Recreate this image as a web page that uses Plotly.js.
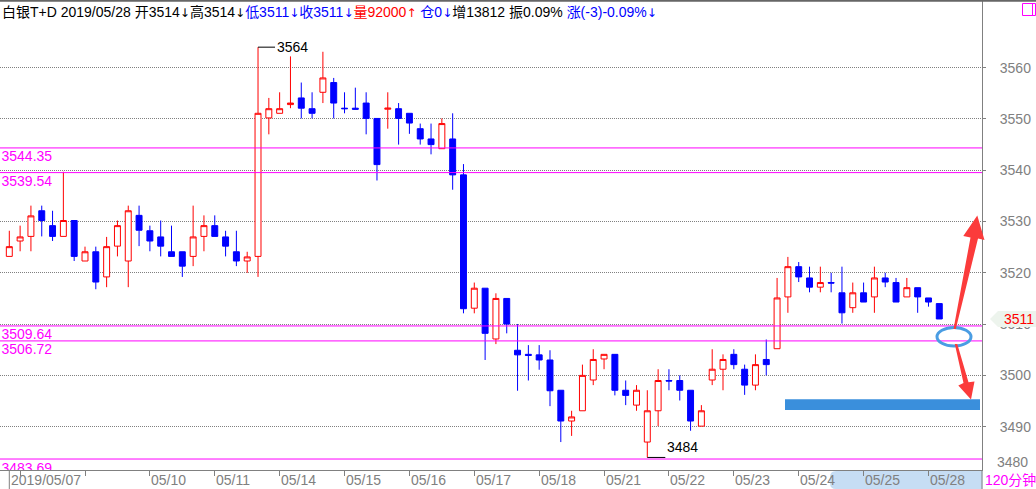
<!DOCTYPE html>
<html>
<head>
<meta charset="utf-8">
<script src="https://cdn.plot.ly/plotly-3.0.1.min.js"></script>
<style>
html,body{margin:0;padding:0;background:#fff;}
#chart{width:1036px;height:489px;}
</style>
</head>
<body>
<div id="chart"></div>
<script>
// ---------- data ----------
const candleIdx = Array.from({length: 87}, (_, i) => i);
const openV = [3523.2,3526.2,3527.1,3532.1,3529.2,3527.1,3530.2,3522.3,3524.1,3519.2,
  3525.2,3522.3,3531.2,3528.2,3527.0,3524.1,3524.1,3523.2,3527.1,3529.2,
  3527.0,3524.1,3522.3,3523.2,3550.2,3551.1,3552.8,3554.1,3552.0,3555.2,
  3557.1,3552.1,3552.1,3553.1,3550.1,3551.9,3552.0,3551.1,3548.1,3546.1,
  3544.2,3546.1,3539.1,3513.1,3517.0,3507.1,3515.0,3504.9,3504.1,3504.0,
  3503.0,3497.1,3491.1,3493.1,3499.1,3503.2,3504.1,3497.1,3494.2,3487.0,
  3493.1,3499.0,3499.0,3497.1,3490.1,3499.1,3501.2,3504.1,3501.2,3498.1,
  3503.1,3505.2,3515.3,3521.2,3519.0,3517.2,3518.1,3516.1,3513.2,3516.1,
  3515.3,3519.0,3518.1,3515.3,3517.1,3515.1,3514.0];
const highV = [3528.2,3529.2,3533.1,3533.1,3532.1,3539.7,3530.2,3525.1,3525.1,3527.0,
  3530.2,3533.1,3533.1,3529.2,3530.2,3529.2,3524.1,3533.1,3531.2,3531.2,
  3528.2,3528.2,3524.1,3564.0,3554.1,3555.2,3562.2,3557.1,3555.2,3563.1,
  3558.0,3555.2,3556.1,3555.2,3550.1,3555.2,3553.1,3551.1,3549.1,3549.1,
  3550.1,3551.1,3541.2,3518.1,3517.0,3516.0,3515.0,3510.0,3505.9,3505.9,
  3504.9,3497.1,3493.1,3502.1,3505.1,3504.1,3504.1,3499.0,3498.1,3497.1,
  3501.2,3501.2,3500.0,3497.1,3494.2,3505.1,3504.1,3505.1,3502.1,3504.1,
  3507.0,3519.0,3523.1,3522.1,3521.2,3521.2,3520.0,3521.2,3518.1,3518.1,
  3521.2,3520.0,3519.0,3519.0,3517.1,3515.1,3514.0];
const lowV = [3523.2,3524.2,3524.2,3527.1,3526.2,3527.1,3522.3,3522.3,3516.8,3517.2,
  3523.2,3517.2,3525.2,3524.2,3523.2,3523.2,3519.2,3521.3,3524.2,3527.1,
  3523.2,3521.3,3520.0,3519.2,3547.0,3551.1,3552.1,3550.1,3550.1,3553.1,
  3550.1,3551.1,3551.9,3547.0,3538.0,3548.1,3545.0,3547.1,3545.0,3543.1,
  3544.2,3536.2,3512.1,3512.1,3503.0,3506.1,3508.2,3497.0,3499.0,3501.1,
  3494.0,3487.0,3488.2,3493.1,3498.1,3501.2,3496.1,3494.2,3493.1,3484.0,
  3490.1,3497.1,3495.1,3489.2,3490.1,3498.1,3497.1,3501.2,3496.2,3497.1,
  3500.0,3505.2,3512.2,3518.2,3516.2,3516.2,3516.2,3510.1,3512.2,3514.3,
  3512.2,3517.2,3514.3,3515.3,3512.2,3513.4,3511.0];
const closeV = [3525.1,3527.0,3531.1,3530.2,3527.1,3530.2,3523.2,3524.1,3518.2,3525.1,
  3529.2,3532.1,3528.3,3526.2,3525.2,3523.2,3521.3,3527.0,3529.2,3527.1,
  3525.2,3522.3,3523.1,3551.1,3552.0,3552.0,3553.1,3552.1,3551.1,3558.0,
  3553.1,3552.0,3551.9,3550.1,3541.1,3552.1,3550.1,3549.2,3546.1,3545.0,
  3549.1,3539.1,3513.0,3517.0,3508.2,3515.0,3510.0,3504.0,3503.9,3503.0,
  3497.0,3491.1,3491.9,3500.0,3503.1,3504.1,3497.1,3496.1,3497.1,3493.1,
  3499.0,3498.9,3497.1,3491.1,3493.1,3501.2,3503.1,3502.1,3498.1,3502.1,
  3502.1,3515.1,3521.2,3519.2,3517.2,3518.1,3518.0,3512.2,3516.1,3514.3,
  3519.0,3518.2,3514.3,3517.1,3515.3,3514.3,3511.0];

const levelValues = [3544.35, 3539.54, 3509.64, 3506.72, 3483.69];
const yTickVals = [3490, 3500, 3510, 3520, 3530, 3540, 3550, 3560];
const xTickIdx = [1, 7, 13, 19, 25, 31, 37, 43, 49, 55, 61, 67, 73, 79, 85];
const dateLabelIdx = [0, 13, 19, 25, 31, 37, 43, 49, 55, 61, 67, 73, 79, 85];
const dateLabels = ['2019/05/07','05/10','05/11','05/14','05/15','05/16','05/17',
  '05/18','05/21','05/22','05/23','05/24','05/25','05/28'];
const periodLabel = '120分钟';
// header pieces: text, colour, optional arrow after it
const headerText   = ['白银T+D 2019/05/28 开3514', '高3514', '低3511', '收3511', '量92000', ' 仓0', '增13812 振0.09% 涨(-3)-0.09%'];
const headerColor  = ['#000000', '#000000', '#0000ff', '#0000ff', '#ff0000', '#0000ff', null];
const headerArrow  = ['↓', '↓', '↓', '↓', '↑', '↓', '↓'];

// ---------- geometry (pixels) ----------
const W = 1036, H = 489;
const plotL = 0, plotR = 982, plotT = 1, plotB = 470;
const yMin = 3481.55, yMax = 3573.0;
const xMin = -0.86, xMax = 89.95;
const pxPerIdx = (plotR - plotL) / (xMax - xMin);
const pxPerUnit = (plotB - plotT) / (yMax - yMin);
const px2p = x => (x - plotL) / (plotR - plotL);
const py2p = y => (plotB - y) / (plotB - plotT);
const FONT = 'Liberation Sans, Arial, "Noto Sans CJK SC", sans-serif';
const GRAY = '#808080';
const MAG = '#ff00ff';
const RED_ARROW = '#fb3b3b';

function polyPath(pts) {
  return 'M ' + pts.map(p => px2p(p[0]).toFixed(5) + ',' + py2p(p[1]).toFixed(5)).join(' L ') + ' Z';
}

// header html
let headerHtml = '';
headerText.forEach((t, k) => {
  const c = headerColor[k];
  if (c) {
    headerHtml += '<span style="color:' + c + '">' + t + '</span>';
    headerHtml += '<span style="color:' + c + ';font-family:DejaVu Sans;font-size:12px">' + headerArrow[k] + '</span>';
  } else {
    // last piece: "增13812 振0.09% " black, "涨(-3)-0.09%" blue
    const cut = t.indexOf('涨');
    headerHtml += t.slice(0, cut) + '<span style="color:#0000ff">' + t.slice(cut) + '</span>' +
      '<span style="color:#0000ff;font-family:DejaVu Sans;font-size:12px">' + headerArrow[k] + '</span>';
  }
});

// extremes
let maxI = 0, minI = 0;
highV.forEach((v, i) => { if (v > highV[maxI]) maxI = i; });
lowV.forEach((v, i) => { if (v < lowV[minI]) minI = i; });
const lastClose = closeV[closeV.length - 1];

const candle = {
  type: 'candlestick',
  x: candleIdx, open: openV, high: highV, low: lowV, close: closeV,
  increasing: {line: {color: '#ff0000', width: 1}, fillcolor: '#ffffff'},
  decreasing: {line: {color: '#0000ff', width: 1}, fillcolor: '#0000ff'},
  whiskerwidth: 0,
  hoverinfo: 'skip',
  showlegend: false
};

const levelText = {
  type: 'scatter', mode: 'text',
  x: levelValues.map(() => xMin + 1.5 / pxPerIdx),
  y: levelValues.map(v => v - 10 / pxPerUnit),
  text: levelValues.map(v => v.toFixed(2)),
  textposition: 'middle right',
  textfont: {family: FONT, size: 14, color: MAG},
  cliponaxis: true,
  hoverinfo: 'skip', showlegend: false
};

const shapes = [];
levelValues.forEach(v => shapes.push({type: 'line', xref: 'paper', yref: 'y', x0: 0, x1: 1, y0: v, y1: v,
  line: {color: MAG, width: 1}, layer: 'above'}));
shapes.push({type: 'line', xref: 'paper', yref: 'paper', x0: 0, x1: px2p(W), y0: py2p(0.8), y1: py2p(0.8),
  line: {color: '#666666', width: 2}});
shapes.push({type: 'line', xref: 'paper', yref: 'paper', x0: 1, x1: 1, y0: py2p(plotB), y1: py2p(H),
  line: {color: GRAY, width: 1}});
shapes.push({type: 'line', xref: 'x', yref: 'paper', x0: dateLabelIdx[0], x1: dateLabelIdx[0], y0: 0, y1: py2p(H),
  line: {color: GRAY, width: 1}});
shapes.push({type: 'path', xref: 'paper', yref: 'paper', layer: 'below',
  path: 'M ' + px2p(836) + ',' + py2p(471) + ' L ' + px2p(982.5) + ',' + py2p(471) + ' L ' + px2p(982.5) + ',' + py2p(489) +
        ' L ' + px2p(836) + ',' + py2p(489) + ' Q ' + px2p(830) + ',' + py2p(489) + ' ' + px2p(830) + ',' + py2p(483) +
        ' L ' + px2p(830) + ',' + py2p(477) + ' Q ' + px2p(830) + ',' + py2p(471) + ' ' + px2p(836) + ',' + py2p(471) + ' Z',
  fillcolor: '#c6ddf4', line: {width: 0}});
shapes.push({type: 'rect', xref: 'paper', yref: 'paper', x0: px2p(1022.5), x1: px2p(1035.5), y0: py2p(15.5), y1: py2p(3.5),
  line: {color: MAG, width: 1}});
shapes.push({type: 'line', xref: 'paper', yref: 'paper', x0: px2p(1032.5), x1: px2p(1032.5), y0: py2p(15.5), y1: py2p(3.5),
  line: {color: MAG, width: 1}});
shapes.push({type: 'line', xref: 'x', yref: 'y', x0: maxI, x1: maxI + 17 / pxPerIdx, y0: highV[maxI], y1: highV[maxI],
  line: {color: '#000000', width: 1}});
shapes.push({type: 'line', xref: 'x', yref: 'y', x0: minI, x1: minI + 18 / pxPerIdx, y0: lowV[minI], y1: lowV[minI],
  line: {color: '#000000', width: 1}});
const lcY = plotT + (yMax - lastClose) * pxPerUnit;
shapes.push({type: 'path', xref: 'paper', yref: 'paper',
  path: polyPath([[990, lcY], [998, lcY - 8], [1036, lcY - 8], [1036, lcY + 8], [998, lcY + 8]]),
  fillcolor: '#edf4ed', line: {width: 0}});
shapes.push({type: 'rect', xref: 'paper', yref: 'paper', x0: px2p(785), x1: px2p(980), y0: py2p(410), y1: py2p(399.3),
  fillcolor: '#3a8fdc', line: {width: 0}});
shapes.push({type: 'circle', xref: 'paper', yref: 'paper', x0: px2p(937), x1: px2p(971), y0: py2p(346), y1: py2p(327.5),
  line: {color: '#4a9de3', width: 3}});
shapes.push({type: 'path', xref: 'paper', yref: 'paper',
  path: polyPath([[953.5, 329], [970.5, 237.5], [963.3, 236], [977.3, 215.5], [984.5, 240], [978, 238.5], [955.8, 329]]),
  fillcolor: RED_ARROW, line: {width: 0}});
shapes.push({type: 'path', xref: 'paper', yref: 'paper',
  path: polyPath([[954.8, 344], [963.5, 383], [958.3, 385.5], [971, 399.5], [974.5, 381.5], [968.5, 382.2], [957.3, 344]]),
  fillcolor: RED_ARROW, line: {width: 0}});

const annotations = [];
annotations.push({xref: 'paper', yref: 'paper', x: px2p(0), y: py2p(12), xanchor: 'left', yanchor: 'middle',
  text: headerHtml, showarrow: false, font: {family: FONT, size: 14, color: '#000000'}});
dateLabels.forEach((t, k) => annotations.push({xref: 'x', yref: 'paper', x: dateLabelIdx[k], y: py2p(479.5),
  xanchor: 'left', yanchor: 'middle', text: t, showarrow: false, xshift: -0.5,
  font: {family: FONT, size: 14, color: GRAY}}));
annotations.push({xref: 'paper', yref: 'paper', x: px2p(1036), y: py2p(479.5), xanchor: 'right', yanchor: 'middle',
  text: periodLabel, showarrow: false, xshift: 2, font: {family: FONT, size: 14, color: MAG}});
annotations.push({xref: 'paper', yref: 'paper', x: px2p(995), y: py2p(462), xanchor: 'left', yanchor: 'middle',
  text: String(yTickVals[0] - 10), showarrow: false, font: {family: FONT, size: 14, color: GRAY}});
annotations.push({xref: 'paper', yref: 'paper', x: px2p(1036), y: py2p(lcY), xanchor: 'right', yanchor: 'middle',
  text: lastClose.toFixed(0), showarrow: false, font: {family: FONT, size: 14, color: '#ff0000'}});
annotations.push({xref: 'x', yref: 'y', x: maxI + 17 / pxPerIdx, y: highV[maxI], xanchor: 'left', yanchor: 'middle',
  text: highV[maxI].toFixed(0), showarrow: false, font: {family: FONT, size: 14, color: '#000000'}});
annotations.push({xref: 'x', yref: 'y', x: minI + 18 / pxPerIdx, y: lowV[minI], xanchor: 'left', yanchor: 'bottom',
  text: lowV[minI].toFixed(0), showarrow: false, font: {family: FONT, size: 14, color: '#000000'}});

const layout = {
  width: W, height: H,
  margin: {l: plotL, r: W - plotR, t: plotT, b: H - plotB, pad: 0},
  paper_bgcolor: '#ffffff', plot_bgcolor: '#ffffff',
  showlegend: false,
  boxgap: 0.45, boxgroupgap: 0,
  xaxis: {
    range: [xMin, xMax], fixedrange: true,
    tickvals: xTickIdx, ticktext: xTickIdx.map(() => ''),
    ticks: 'outside', ticklen: 5, tickcolor: GRAY, tickwidth: 1,
    showline: true, linecolor: GRAY, linewidth: 1,
    showgrid: false, zeroline: false,
    rangeslider: {visible: false}
  },
  yaxis: {
    side: 'right', range: [yMin, yMax], fixedrange: true,
    tickvals: yTickVals, ticktext: yTickVals.map(String),
    ticks: 'outside', ticklen: 3, tickcolor: GRAY, tickwidth: 1,
    ticklabelstandoff: 11,
    tickfont: {family: FONT, size: 14, color: GRAY},
    showline: true, linecolor: GRAY, linewidth: 1, mirror: false,
    showgrid: true, gridcolor: GRAY, gridwidth: 1, griddash: '1px,1px',
    zeroline: false
  },
  shapes: shapes,
  annotations: annotations
};

Plotly.newPlot('chart', [candle, levelText], layout, {displayModeBar: false, staticPlot: true});
</script>
</body>
</html>
